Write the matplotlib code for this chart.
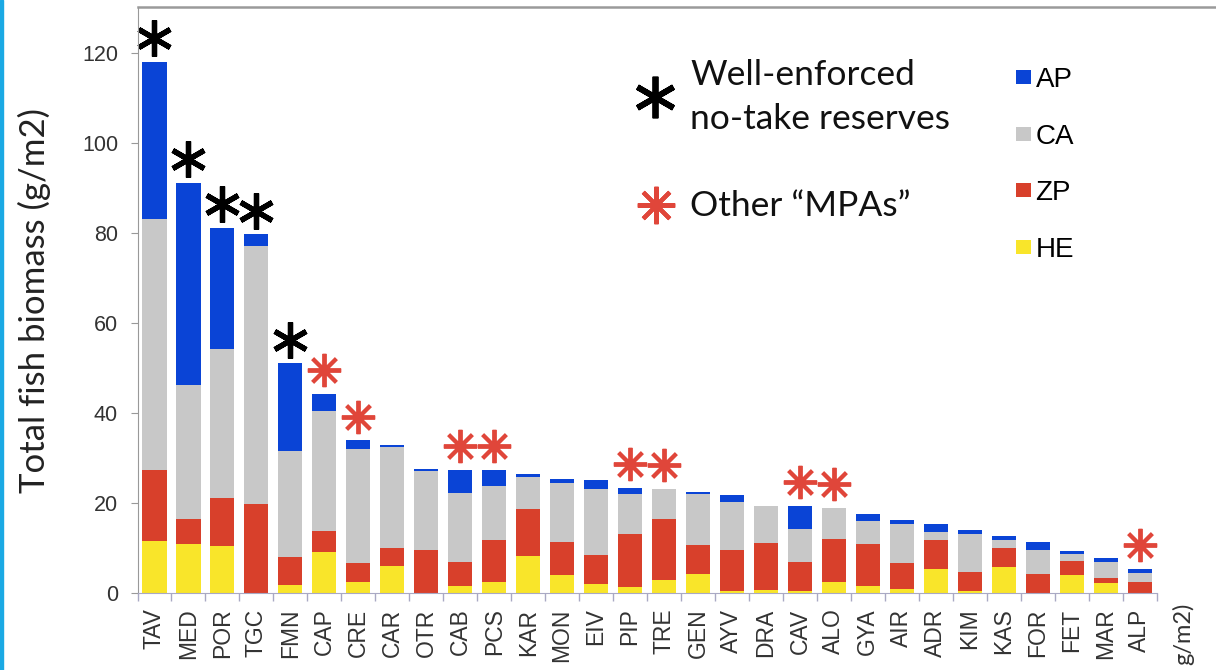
import numpy as np
import matplotlib
matplotlib.use("Agg")
import matplotlib.pyplot as plt
from matplotlib.lines import Line2D
from matplotlib.patches import Rectangle
from matplotlib.transforms import ScaledTranslation

# sites, ordered by total biomass
sites = ["TAV", "MED", "POR", "TGC", "FMN", "CAP", "CRE", "CAR", "OTR", "CAB",
         "PCS", "KAR", "MON", "EIV", "PIP", "TRE", "GEN", "AYV", "DRA", "CAV",
         "ALO", "GYA", "AIR", "ADR", "KIM", "KAS", "FOR", "FET", "MAR", "ALP"]

# biomass per trophic group (g/m2), stacked bottom -> top: HE, ZP, CA, AP
he = [11.7, 11.0, 10.6, 0.0, 1.8, 9.2, 2.6, 6.1, 0.0, 1.6,
      2.6, 8.3, 4.1, 2.1, 1.5, 3.0, 4.3, 0.6, 0.7, 0.6,
      2.6, 1.6, 0.9, 5.3, 0.6, 5.8, 0.0, 4.1, 2.2, 0.0]
zp = [15.8, 5.5, 10.5, 19.8, 6.2, 4.7, 4.2, 4.0, 9.7, 5.4,
      9.2, 10.5, 7.3, 6.4, 11.6, 13.5, 6.4, 9.1, 10.4, 6.4,
      9.4, 9.3, 5.9, 6.5, 4.2, 4.2, 4.3, 3.1, 1.3, 2.6]
ca = [55.7, 29.8, 33.1, 57.5, 23.7, 26.7, 25.3, 22.5, 17.5, 15.3,
      12.0, 7.0, 13.2, 14.6, 9.0, 6.7, 11.3, 10.7, 8.3, 7.2,
      7.0, 5.1, 8.5, 1.8, 8.3, 1.8, 5.4, 1.5, 3.5, 2.0]
ap = [35.0, 45.0, 27.0, 2.5, 19.4, 3.8, 1.9, 0.4, 0.5, 5.2,
      3.7, 0.8, 0.9, 2.0, 1.3, 0.0, 0.5, 1.5, 0.0, 5.2,
      0.0, 1.7, 1.1, 1.7, 0.9, 0.9, 1.6, 0.7, 0.9, 0.9]

enforced = ["TAV", "MED", "POR", "TGC", "FMN"]
other_mpas = ["CAP", "CRE", "CAB", "PCS", "PIP", "TRE", "CAV", "ALO", "ALP"]

group_names = ["AP", "CA", "ZP", "HE"]
group_colors = {"AP": "#0a44d6", "CA": "#c8c8c8", "ZP": "#d8402b", "HE": "#f9e52a"}
red_star = "#e0463a"

W, H = 1216, 670
fig = plt.figure(figsize=(W / 100, H / 100), dpi=100)
ax = fig.add_axes([137.5 / W, 76.7 / H, (W - 137.5) / W, (593.3 - 6.7) / H])

x = np.arange(len(sites))
bottom = np.zeros(len(sites))
bars = {}
for name, vals in [("HE", he), ("ZP", zp), ("CA", ca), ("AP", ap)]:
    vals = np.array(vals)
    bars[name] = ax.bar(x, vals, width=0.71, bottom=bottom,
                        color=group_colors[name], linewidth=0, label=name)
    bottom = bottom + vals
totals = bottom

# asterisks above bars
lift = ax.transData + ScaledTranslation(0, 17 / 72, fig.dpi_scale_trans)
idx_e = [sites.index(s) for s in enforced]
idx_o = [sites.index(s) for s in other_mpas]
ax.plot(x[idx_e], totals[idx_e], linestyle="none", marker=(6, 2, 0),
        markersize=26, markeredgewidth=3.8, color="black", transform=lift,
        clip_on=False)
ax.plot(x[idx_o], totals[idx_o], linestyle="none", marker=(8, 2, 0),
        markersize=24, markeredgewidth=2.8, color=red_star, transform=lift,
        clip_on=False)

ax.set_xlim(-0.5, 31.25)
ax.set_ylim(0, 130.4)
ax.set_yticks(np.arange(0, 121, 20))
ax.set_xticks(x)
ax.set_xticklabels(sites, rotation=90, fontsize=16.5, color="#333333",
                   family="Liberation Sans")
ax.set_xticks(np.arange(-0.5, len(sites), 1), minor=True)
ax.tick_params(axis="x", which="major", length=0, pad=11)
ax.tick_params(axis="x", which="minor", length=6, color="#a9a9c4", width=1)
ax.tick_params(axis="y", length=5, color="#999999", pad=9, labelsize=15.5,
               labelcolor="#333333")
for lab in ax.get_yticklabels():
    lab.set_family("Liberation Sans")

ax.spines["right"].set_visible(False)
ax.spines["bottom"].set_bounds(-0.5, len(sites) - 0.5)
ax.spines["bottom"].set_color("#a9a9c4")
ax.spines["left"].set_color("#999999")
ax.spines["top"].set_color("#9a9a9a")
ax.spines["top"].set_linewidth(1.8)

ax.set_ylabel("Total fish biomass (g/m2)", fontsize=25, family="Lato",
              color="#222222", labelpad=22)

# colour legend
handles = [bars[n] for n in group_names]
ax.legend(handles, group_names, loc="upper left",
          bbox_to_anchor=(1005 / W, 1 - 56 / H), bbox_transform=fig.transFigure,
          frameon=False, handlelength=0.55, handleheight=0.4,
          handletextpad=0.15, labelspacing=1.1, borderaxespad=0,
          prop={"family": "Liberation Sans", "size": 20})

# asterisk legend
fig.add_artist(Line2D([655 / W], [1 - 97 / H], marker=(6, 2, 0), markersize=30,
                      markeredgewidth=4.2, color="black", transform=fig.transFigure))
fig.add_artist(Line2D([656 / W], [1 - 205 / H], marker=(8, 2, 0), markersize=27,
                      markeredgewidth=3, color=red_star, transform=fig.transFigure))
fig.text(690 / W, 1 - 75 / H, "Well-enforced", fontsize=25.5, family="Lato",
         va="center", ha="left", color="#111111")
fig.text(690 / W, 1 - 119 / H, "no-take reserves", fontsize=25.5, family="Lato",
         va="center", ha="left", color="#111111")
fig.text(690 / W, 1 - 206 / H, "Other \u201cMPAs\u201d", fontsize=25.5, family="Lato",
         va="center", ha="left", color="#111111")

# visible end of the neighbouring panel's axis label
fig.text(1183 / W, 1 - 603 / H, "g/m2)", rotation=90, fontsize=17,
         family="Lato", va="top", ha="center", color="#333333")

# slide border on the left
fig.add_artist(Rectangle((0, 0), 2.5 / W, 1, color="#1aa9e4",
                         transform=fig.transFigure))

fig.savefig("out.png", dpi=100)
